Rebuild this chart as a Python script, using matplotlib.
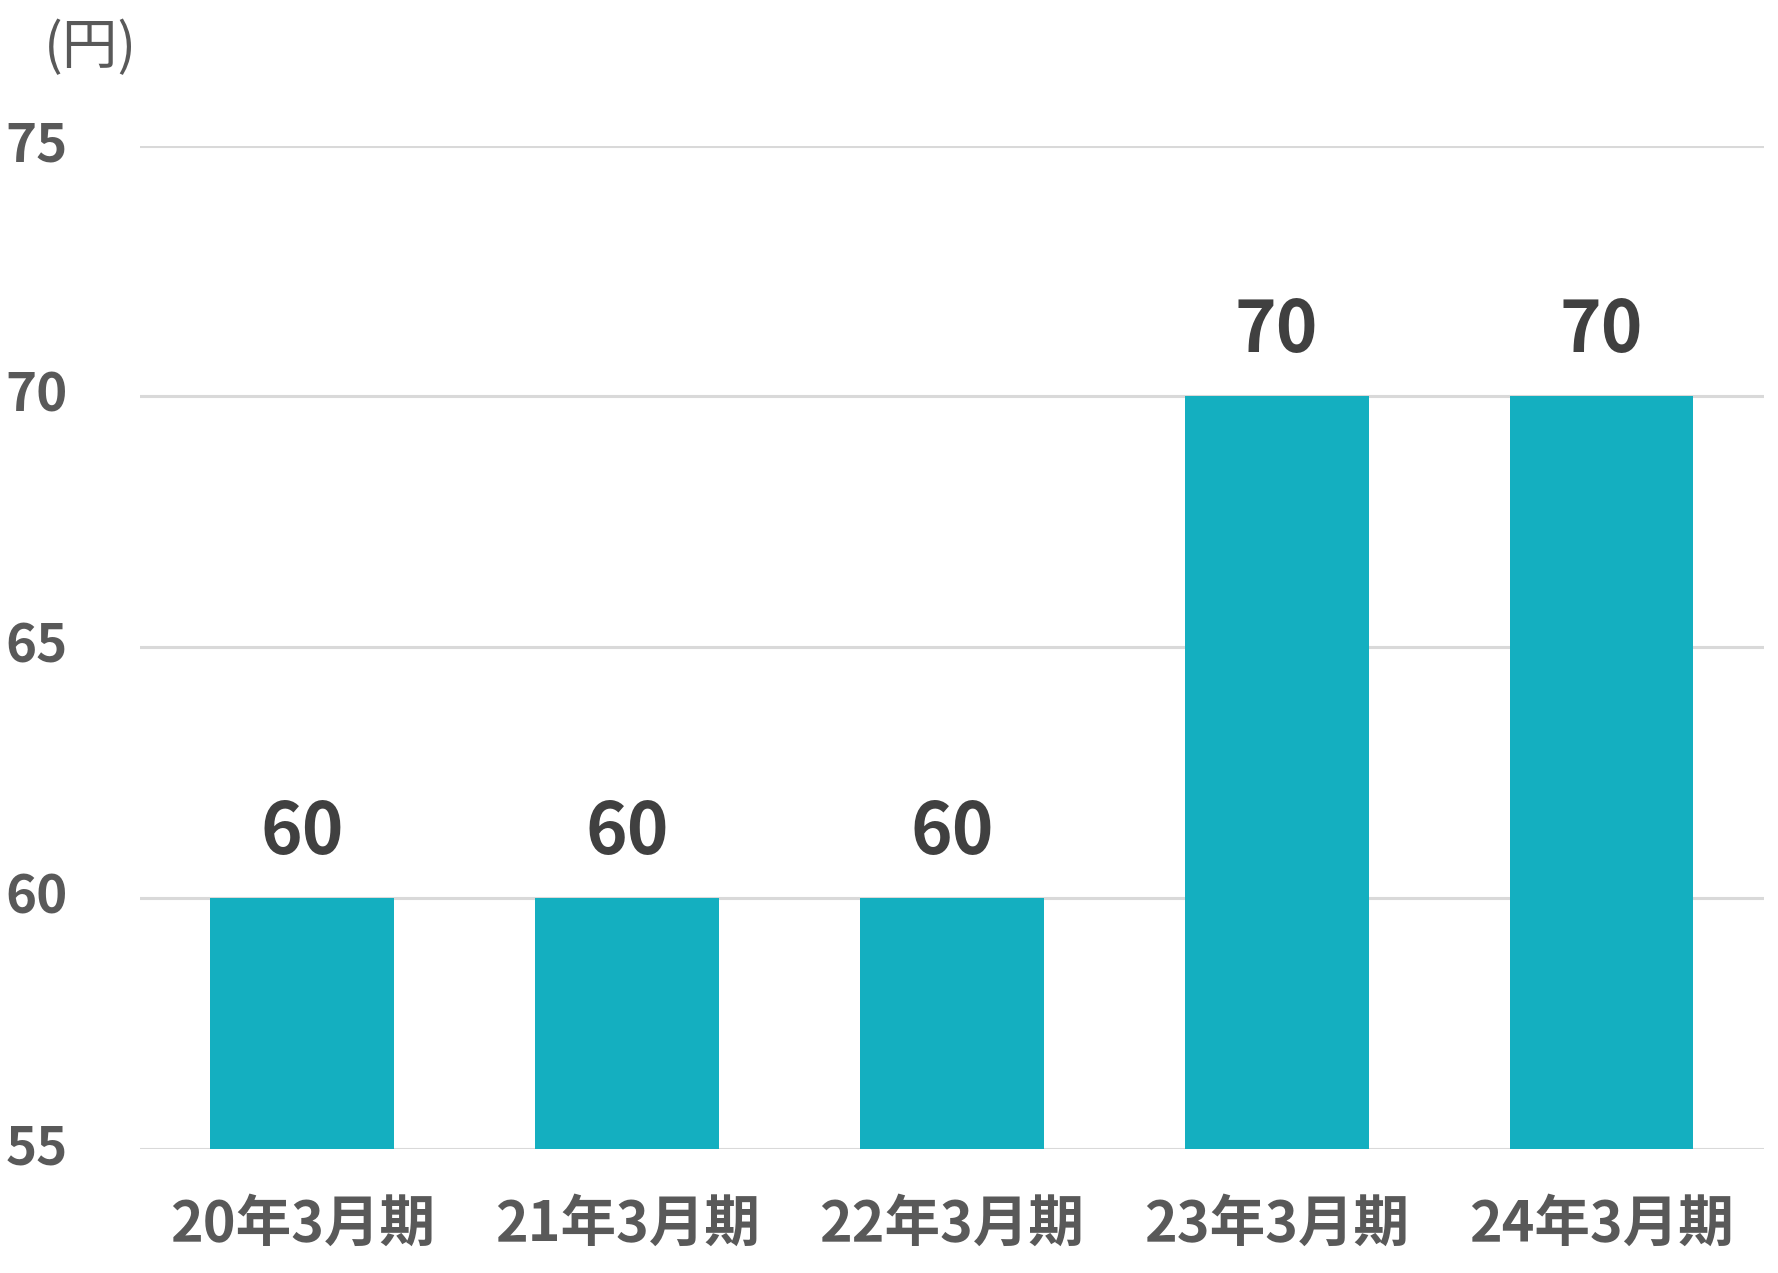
import matplotlib
matplotlib.use("Agg")
import matplotlib.pyplot as plt

plt.rcParams['font.family'] = ['Noto Sans CJK JP', 'DejaVu Sans']

# data
periods = ['20年3月期', '21年3月期', '22年3月期', '23年3月期', '24年3月期']
dividends = [60, 60, 60, 70, 70]
y_ticks = [55, 60, 65, 70, 75]

bar_color = '#14afc0'
tick_color = '#595959'
label_color = '#404040'

fig = plt.figure(figsize=(17.78, 12.73), dpi=100)
ax = fig.add_axes([0.0787, 0.0974, 0.9134, 0.7883])

x = range(len(periods))
ax.bar(x, dividends, width=0.566, color=bar_color, zorder=2)

ax.set_xlim(-0.5, len(periods) - 0.5)
ax.set_ylim(55, 75)
ax.set_yticks(y_ticks)
ax.set_yticklabels([str(v) for v in y_ticks])
ax.set_xticks(list(x))
ax.set_xticklabels(periods)

ax.grid(axis='y', color='#d9d9d9', linewidth=2.2, zorder=0)
ax.set_axisbelow(True)
for s in ax.spines.values():
    s.set_visible(False)

ax.tick_params(axis='both', length=0)
ax.tick_params(axis='y', pad=52, labelsize=38, labelcolor=tick_color)
ax.tick_params(axis='x', pad=66, labelsize=40, labelcolor=tick_color)
for lab in ax.get_yticklabels():
    lab.set_fontweight('bold')
    lab.set_va('center')
for lab in ax.get_xticklabels():
    lab.set_fontweight('bold')
    lab.set_va('baseline')

for xi, v in zip(x, dividends):
    ax.annotate(str(v), xy=(xi, v), xytext=(0, 31.7), textcoords='offset points',
                ha='center', va='baseline', fontsize=51, fontweight='bold',
                color=label_color)

fig.text(44 / 1778, 1 - 48 / 1273, '(円)', ha='left', va='center',
         fontsize=40, color=tick_color)

fig.savefig('out.png', dpi=100)
